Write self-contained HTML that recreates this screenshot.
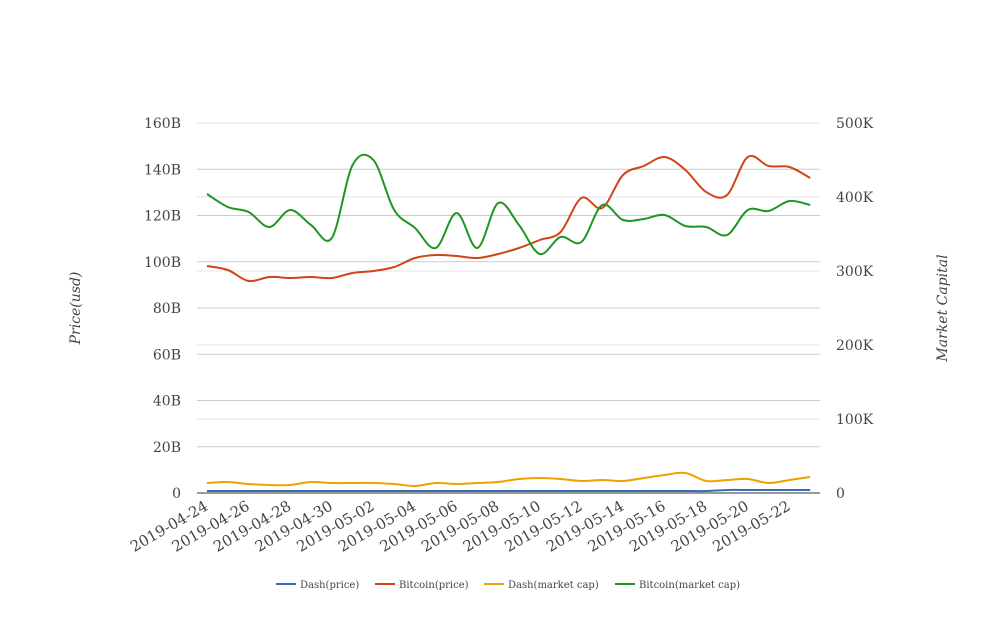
<!DOCTYPE html>
<html><head><meta charset="utf-8"><style>
body{margin:0;background:#fff;}
svg text{font-family:"DejaVu Serif","Liberation Serif",serif;fill:#444;}
</style></head><body>
<svg id="s" width="1008" height="616" xmlns="http://www.w3.org/2000/svg">
<g id="grid"></g>
<line x1="197" y1="493" x2="820" y2="493" stroke="#333" stroke-width="1"/>
<g id="lines"></g>
<g id="labels" font-size="14"></g>
<text transform="translate(80,308) rotate(-90)" text-anchor="middle" font-size="14" font-style="italic" fill="#333">Price(usd)</text>
<text transform="translate(947,308) rotate(-90)" text-anchor="middle" font-size="14" font-style="italic" fill="#333">Market Capital</text>
<g font-size="10">
<line x1="276" y1="584" x2="296" y2="584" stroke="#3a6cb5" stroke-width="2"/><text x="300" y="588">Dash(price)</text>
<line x1="375" y1="584" x2="395" y2="584" stroke="#d04418" stroke-width="2"/><text x="399" y="588">Bitcoin(price)</text>
<line x1="484" y1="584" x2="504" y2="584" stroke="#f0a000" stroke-width="2"/><text x="508" y="588">Dash(market cap)</text>
<line x1="615" y1="584" x2="635" y2="584" stroke="#1e9620" stroke-width="2"/><text x="639" y="588">Bitcoin(market cap)</text>
</g>
</svg>
<script>
var NS="http://www.w3.org/2000/svg";
function el(p,t,a,txt){var e=document.createElementNS(NS,t);for(var k in a)e.setAttribute(k,a[k]);if(txt!==undefined)e.textContent=txt;document.getElementById(p).appendChild(e);}
var L=["160B","140B","120B","100B","80B","60B","40B","20B","0"];
for(var i=0;i<9;i++){var y=123+i*46.25;if(i<8)el("grid","line",{x1:197,x2:820,y1:y,y2:y,stroke:"#ccc"});el("labels","text",{x:181,y:y+5,"text-anchor":"end"},L[i]);}
var R=["500K","400K","300K","200K","100K","0"];
for(var i=0;i<6;i++){var y=123+i*74;if(i<5)el("grid","line",{x1:197,x2:820,y1:y,y2:y,stroke:"#e4e4e4"});el("labels","text",{x:836,y:y+5},R[i]);}
var d=new Date(Date.UTC(2019,3,24));
for(var i=0;i<15;i++){var dt=new Date(d.getTime()+i*2*864e5);var s=dt.toISOString().slice(0,10);var x=207+i*2*20.8;
el("labels","text",{transform:"translate("+(x+2)+",509) rotate(-30)","text-anchor":"end","font-size":"15"},s);}
function path(ys,c){var p=ys.map(function(y,i){return [207+i*20.8,y];});var s="M"+p[0][0]+","+p[0][1];
for(var i=0;i<p.length-1;i++){var p0=p[Math.max(0,i-1)],p1=p[i],p2=p[i+1],p3=p[Math.min(p.length-1,i+2)];
s+=" C"+(p1[0]+(p2[0]-p0[0])/6)+","+(p1[1]+(p2[1]-p0[1])/6)+" "+(p2[0]-(p3[0]-p1[0])/6)+","+(p2[1]-(p3[1]-p1[1])/6)+" "+p2[0]+","+p2[1];}
el("lines","path",{d:s,fill:"none",stroke:c,"stroke-width":2});}
var blue=[];
var orange=[483,483,482,484,485,485,482,483,483,483,484,486,483,484,483,482,479,478,479,481,480,481,478,475,473,481,480,479,483,480,477];
orange.splice(1,1);
for(var i=0;i<30;i++)blue.push(i<25?491:490);
var red=[266,270,281,277,278,277,278,273,271,267,258,255,256,258,254,248,240,232,198,208,175,166,157,170,192,195,157,166,167,178];
var green=[194,207,212,227,210,225,238,165,160,210,228,248,213,248,203,225,254,237,242,205,220,219,215,226,227,235,210,211,201,205];
path(blue,"#3a6cb5");path(red,"#d04418");path(orange,"#f0a000");path(green,"#1e9620");
</script>
</body></html>
